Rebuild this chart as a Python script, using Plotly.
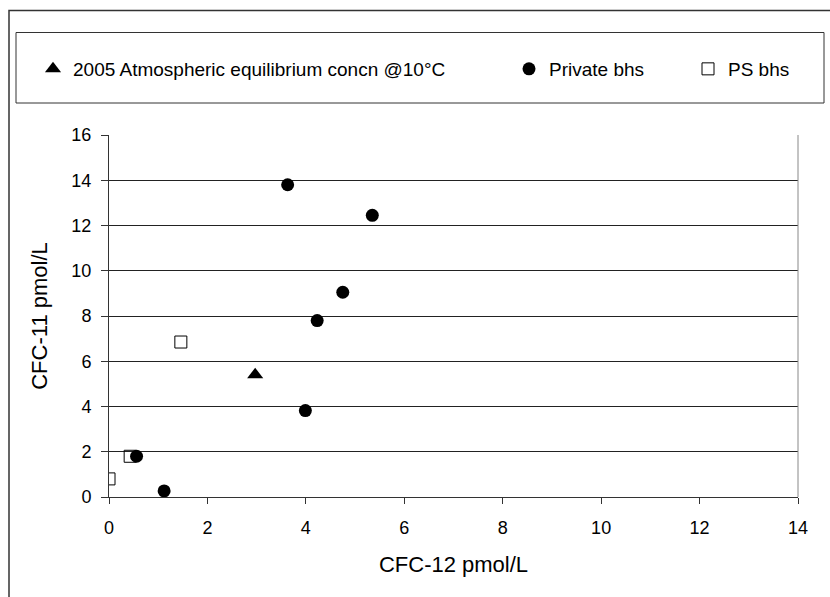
import plotly.graph_objects as go

# Data
atm_x = [2.97]
atm_y = [5.4]

private_x = [3.63, 5.35, 4.75, 4.23, 3.99, 0.56, 1.12]
private_y = [13.8, 12.45, 9.05, 7.8, 3.82, 1.8, 0.27]

ps_x = [1.46, 0.43, 0.0]
ps_y = [6.85, 1.8, 0.8]

x_ticks = [0, 2, 4, 6, 8, 10, 12, 14]
y_ticks = [0, 2, 4, 6, 8, 10, 12, 14, 16]

W, H = 830, 597
L, R, T, B = 109, 32, 135, 100
PW, PH = W - L - R, H - T - B

def px(xp):
    return (xp - L) / PW

def py(yp):
    return 1 - (yp - T) / PH

FONT = "Liberation Sans, Arial, sans-serif"

fig = go.Figure()
fig.add_trace(go.Scatter(
    x=atm_x, y=atm_y, mode="markers",
    name="2005 Atmospheric equilibrium concn @10°C",
    marker=dict(symbol="triangle-up", size=14, color="black"),
    legend="legend",
))
fig.add_trace(go.Scatter(
    x=private_x, y=private_y, mode="markers", name="Private bhs",
    marker=dict(symbol="circle", size=13, color="black"),
    legend="legend2",
))
fig.add_trace(go.Scatter(
    x=ps_x, y=ps_y, mode="markers", name="PS bhs",
    marker=dict(symbol="square-open", size=12, color="black", line=dict(width=1)),
    legend="legend3",
))

leg_common = dict(
    orientation="h", xanchor="left", yanchor="middle",
    bgcolor="rgba(0,0,0,0)", borderwidth=0,
    font=dict(family=FONT, size=19, color="black"),
    xref="paper", yref="paper",
    itemwidth=30,
)
fig.update_layout(
    showlegend=True,
    legend=dict(x=px(33), y=py(69), **leg_common),
    legend2=dict(x=px(509), y=py(69), **leg_common),
    legend3=dict(x=px(688), y=py(69), **leg_common),
)

fig.update_layout(
    width=W, height=H,
    margin=dict(l=L, r=R, t=T, b=B),
    paper_bgcolor="white", plot_bgcolor="white",
    font=dict(family=FONT, color="black"),
    xaxis=dict(
        range=[0, 14], tickvals=x_ticks, ticktext=[str(v) for v in x_ticks],
        showgrid=False, zeroline=False,
        showline=True, linecolor="#333", linewidth=1,
        ticks="outside", ticklen=6, tickcolor="#333",
        ticklabelstandoff=8,
        tickfont=dict(size=18, family=FONT),
        title=dict(text="CFC-12 pmol/L", font=dict(size=22, family=FONT), standoff=20),
    ),
    yaxis=dict(
        range=[0, 16], tickvals=y_ticks, ticktext=[str(v) for v in y_ticks],
        showgrid=True, gridcolor="#222", gridwidth=1, zeroline=False,
        showline=True, linecolor="#333", linewidth=1,
        ticks="outside", ticklen=7, tickcolor="#333",
        ticklabelstandoff=6,
        tickfont=dict(size=18, family=FONT),
        title=dict(text="CFC-11 pmol/L", font=dict(size=22, family=FONT), standoff=17),
    ),
    shapes=[
        # outer chart border
        dict(type="rect", xref="paper", yref="paper",
             x0=px(9), x1=px(840), y0=py(610), y1=py(10.5),
             line=dict(color="#333", width=1.5), layer="below"),
        # legend box
        dict(type="rect", xref="paper", yref="paper",
             x0=px(16), x1=px(824), y0=py(103), y1=py(32.5),
             line=dict(color="#333", width=1), layer="below"),
        # right border of plot area
        dict(type="line", xref="paper", yref="paper",
             x0=1, x1=1, y0=0, y1=1, line=dict(color="#888", width=1)),
    ],
)

fig.write_html("out.html")
